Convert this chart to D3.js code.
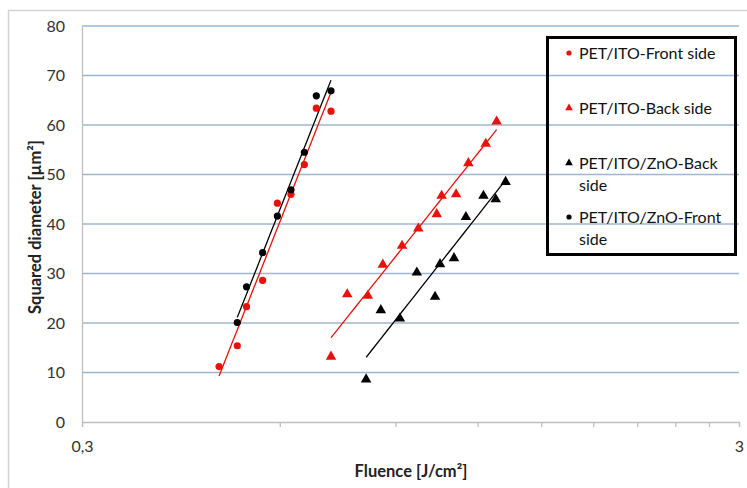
<!DOCTYPE html>
<html><head><meta charset="utf-8">
<script src="https://cdn.jsdelivr.net/npm/d3@7"></script>
<style>body{margin:0;background:#fff}svg{display:block}</style>
</head><body><svg id="c" width="747" height="488"></svg>
<script>
const seriesNames = ["PET/ITO-Front side","PET/ITO-Back side","PET/ITO/ZnO-Back side","PET/ITO/ZnO-Front side"];
const itoFrontX = [0.485,0.517,0.534,0.565,0.595,0.624,0.654,0.682,0.718];
const itoFrontY = [11.2,15.4,23.3,28.6,44.2,46.0,52.0,63.4,62.8];
const znoFrontX = [0.517,0.534,0.565,0.595,0.624,0.654,0.682,0.718];
const znoFrontY = [20.1,27.3,34.2,41.6,46.9,54.5,65.9,66.9];
const itoBackX = [0.718,0.760,0.817,0.861,0.921,0.975,1.040,1.058,1.113,1.162,1.235,1.283];
const itoBackY = [13.2,25.8,25.5,31.8,35.6,39.1,42.0,45.7,46.0,52.3,56.2,60.7];
const znoBackX = [0.812,0.855,0.914,0.970,1.034,1.052,1.105,1.152,1.225,1.279,1.324];
const znoBackY = [8.6,22.6,20.9,30.2,25.3,31.9,33.1,41.4,45.7,45.0,48.5];
const yTicks = [0,10,20,30,40,50,60,70,80];
const xTickVals = [0.3,0.6,0.9,1.2,1.5,1.8,2.1,2.4,2.7,3];
const xTickLabels = {"0.3":"0,3","3":"3"};

const svg = d3.select("#c");
const L=82,R=739,T=26,B=422;
const x = d3.scaleLog().domain([0.3,3]).range([L,R]);
const y = d3.scaleLinear().domain([0,80]).range([B,T]);
const font = "Lato, 'Open Sans', sans-serif";

// outer frame
svg.append("rect").attr("x",8.5).attr("y",10.5).attr("width",760).attr("height",500)
  .attr("fill","none").attr("stroke","#d4d4d4").attr("stroke-width",1.5);

// gridlines
svg.append("g").selectAll("line").data(yTicks.filter(d=>d>0)).join("line")
  .attr("x1",L).attr("x2",R).attr("y1",d=>y(d)).attr("y2",d=>y(d))
  .attr("stroke","#9db6d2").attr("stroke-width",1.3);

// y axis
const ya = svg.append("g").attr("transform",`translate(${L},0)`)
  .call(d3.axisLeft(y).tickValues(yTicks).tickSize(0).tickPadding(17).tickFormat(d3.format("d")));
ya.select(".domain").attr("stroke","#bfbfbf").attr("stroke-width",1.3);
ya.selectAll("text").attr("font-family",font).attr("font-size",16).attr("fill","#333");

// x axis
const xa = svg.append("g").attr("transform",`translate(0,${B})`)
  .call(d3.axisBottom(x).tickValues(xTickVals).tickSize(5).tickPadding(14)
    .tickFormat(d=>xTickLabels[String(d)]||""));
xa.select(".domain").attr("stroke","#bfbfbf").attr("stroke-width",1.3);
xa.selectAll(".tick line").attr("stroke","#bfbfbf").attr("stroke-width",1.3);
xa.selectAll("text").attr("font-family",font).attr("font-size",16).attr("fill","#333");

// axis titles
svg.append("text").attr("x",411).attr("y",477).attr("text-anchor","middle")
  .attr("font-family",font).attr("font-weight","bold").attr("font-size",16.5).attr("fill","#222")
  .text("Fluence [J/cm²]");
svg.append("text").attr("transform","translate(41,227) rotate(-90)").attr("text-anchor","middle")
  .attr("font-family",font).attr("font-weight","bold").attr("font-size",16.5).attr("fill","#222")
  .text("Squared diameter [µm²]");

// trend lines (least-squares fit in log x)
function fit(xs,ys){
  const lx=xs.map(Math.log), n=xs.length;
  const mx=d3.mean(lx), my=d3.mean(ys);
  let sxy=0,sxx=0; for(let i=0;i<n;i++){sxy+=(lx[i]-mx)*(ys[i]-my);sxx+=(lx[i]-mx)**2;}
  const b=sxy/sxx,a=my-b*mx; return v=>a+b*Math.log(v);
}
const series = [
  {xs:itoFrontX, ys:itoFrontY, color:"#e8120c", shape:"circle"},
  {xs:itoBackX, ys:itoBackY, color:"#e8120c", shape:"tri"},
  {xs:znoBackX, ys:znoBackY, color:"#000", shape:"tri"},
  {xs:znoFrontX, ys:znoFrontY, color:"#000", shape:"circle"}
];
const line = d3.line().x(d=>x(d[0])).y(d=>y(d[1]));
series.forEach(s=>{
  const f=fit(s.xs,s.ys);
  const x0=d3.min(s.xs), x1=d3.max(s.xs);
  const pts=d3.range(0,21).map(i=>{const v=x0*Math.pow(x1/x0,i/20);return [v,f(v)];});
  svg.append("path").attr("d",line(pts)).attr("fill","none").attr("stroke",s.color).attr("stroke-width",1.3);
});
const triSym = d3.symbol().type(d3.symbolTriangle).size(48);
series.forEach(s=>{
  const g=svg.append("g");
  const data=s.xs.map((v,i)=>[v,s.ys[i]]);
  if(s.shape==="circle"){
    g.selectAll("circle").data(data).join("circle").attr("cx",d=>x(d[0])).attr("cy",d=>y(d[1]))
      .attr("r",3.6).attr("fill",s.color);
  } else {
    g.selectAll("path").data(data).join("path").attr("d",triSym)
      .attr("transform",d=>`translate(${x(d[0])},${y(d[1])})`).attr("fill",s.color);
  }
});

// legend
const lg = svg.append("g");
lg.append("rect").attr("x",547.5).attr("y",37.5).attr("width",188).attr("height",217)
  .attr("fill","none").attr("stroke","#000").attr("stroke-width",3);
const legRows = [
  {lines:["PET/ITO-Front side"], y:53},
  {lines:["PET/ITO-Back side"], y:108},
  {lines:["PET/ITO/ZnO-Back","side"], y:163},
  {lines:["PET/ITO/ZnO-Front","side"], y:217}
];
legRows.forEach((r,i)=>{
  const s=series[i];
  if(s.shape==="circle") lg.append("circle").attr("cx",569).attr("cy",r.y).attr("r",2.6).attr("fill",s.color);
  else lg.append("path").attr("d",d3.symbol().type(d3.symbolTriangle).size(26)).attr("transform",`translate(569,${r.y})`).attr("fill",s.color);
  r.lines.forEach((t,j)=>{
    lg.append("text").attr("x",579).attr("y",r.y+j*22).attr("dy","0.35em")
      .attr("font-family",font).attr("font-size",16).attr("fill","#111").text(t);
  });
});
</script></body></html>
